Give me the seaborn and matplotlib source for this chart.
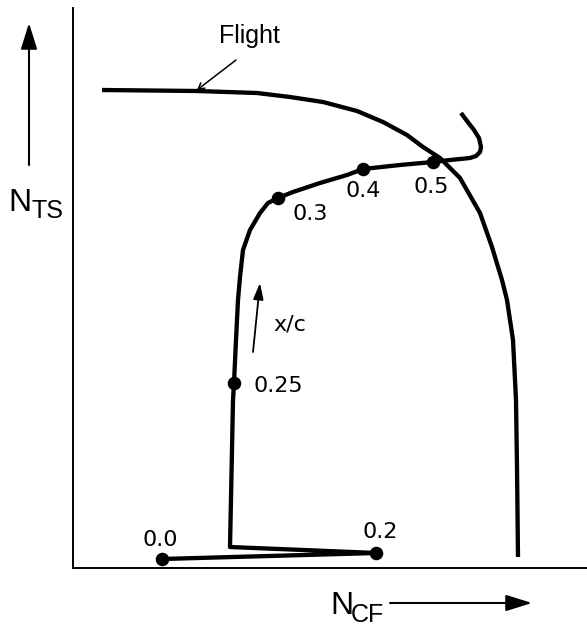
import matplotlib
matplotlib.use("Agg")
import matplotlib.pyplot as plt
import seaborn as sns
import pandas as pd

# ---- data (schematic units) ----
traj_ncf = [89, 303, 157, 159, 160, 161, 163, 165, 167, 170, 177, 187, 195, 205, 220,
            247, 274, 290, 327, 360, 377, 397, 403, 407, 408, 406, 401, 394, 388]
traj_nts = [9, 15, 21, 118, 168, 185, 228, 268, 291, 318, 338, 355, 365, 370, 376,
            385, 393, 399, 403, 406, 408, 410, 412, 416, 421, 430, 438, 447, 455]

flight_ncf = [29, 77, 124, 184, 217, 250, 284, 310, 334, 350, 367, 387, 407, 419,
              429, 434, 440, 443, 444, 445]
flight_nts = [478, 477.5, 477, 475, 471, 466, 457, 446, 433, 421, 410, 390, 355, 321,
              288, 268, 228, 168, 101, 11]

station_labels = ["0.0", "0.2", "0.25", "0.3", "0.4", "0.5"]
station_ncf = [89, 303, 161, 205, 290, 360]
station_nts = [9, 15, 185, 370, 399, 406]
label_ncf = [87, 307, 205, 237, 290, 358]
label_nts = [28, 36, 182, 354, 377, 381]

traj = pd.DataFrame({"NCF": traj_ncf, "NTS": traj_nts})
flight = pd.DataFrame({"NCF": flight_ncf, "NTS": flight_nts})
stations = pd.DataFrame({"NCF": station_ncf, "NTS": station_nts, "label": station_labels})

sns.set_style("white")
plt.rcParams["font.family"] = ["DejaVu Sans"]
plt.rcParams["text.color"] = "black"

W, H = 587, 635
fig = plt.figure(figsize=(W / 100, H / 100), dpi=100)
left, right, top, bottom = 73, 587, 8, 568
ax = fig.add_axes([left / W, (H - bottom) / H, (right - left) / W, (bottom - top) / H])
ax.set_xlim(0, right - left)
ax.set_ylim(0, bottom - top)

sns.lineplot(data=traj, x="NCF", y="NTS", sort=False, color="black", lw=3.1, ax=ax,
             estimator=None)
sns.lineplot(data=flight, x="NCF", y="NTS", sort=False, color="black", lw=3.1, ax=ax,
             estimator=None)
for ln in ax.lines:
    ln.set_solid_joinstyle("round")
    ln.set_solid_capstyle("butt")
sns.scatterplot(data=stations, x="NCF", y="NTS", color="black", s=95, ax=ax,
                edgecolor="black", linewidth=0, zorder=5)

for lab, x, y in zip(station_labels, label_ncf, label_nts):
    ax.text(x, y, lab, fontsize=16, ha="center", va="center", color="black")

# x/c direction arrow
ax.text(217, 243, "x/c", fontsize=16, ha="center", va="center", color="black")
ax.annotate("", xy=(187, 285), xytext=(180, 216),
            arrowprops=dict(arrowstyle="-|>,head_length=0.7,head_width=0.22",
                            mutation_scale=14, lw=1.3, color="black", shrinkA=0, shrinkB=0))

# Flight label with leader
ax.text(176, 532, "Flight", fontsize=18, ha="center", va="center", color="black",
        family=["Liberation Sans", "DejaVu Sans"])
ax.annotate("", xy=(124, 478), xytext=(163, 508),
            arrowprops=dict(arrowstyle="->,head_length=0.35,head_width=0.2",
                            mutation_scale=12, lw=1.1, color="black", shrinkA=0, shrinkB=0))

# axis labels with arrows
lab_font = ["Liberation Sans", "DejaVu Sans"]
ax.set_xlabel("")
ax.set_ylabel("")
ax.text(-53, 365, "N", fontsize=23, ha="center", va="center", family=lab_font,
        color="black", clip_on=False)
ax.text(-25, 357, "TS", fontsize=18, ha="center", va="center", family=lab_font,
        color="black", clip_on=False)
ax.annotate("", xy=(-44, 545), xytext=(-44, 403), annotation_clip=False,
            arrowprops=dict(arrowstyle="-|>,head_length=0.8,head_width=0.25",
                            mutation_scale=20, lw=1.5, color="black", shrinkA=0, shrinkB=0))
ax.text(269, -38, "N", fontsize=23, ha="center", va="center", family=lab_font,
        color="black", clip_on=False)
ax.text(294, -47, "CF", fontsize=18, ha="center", va="center", family=lab_font,
        color="black", clip_on=False)
ax.annotate("", xy=(459, -35), xytext=(317, -35), annotation_clip=False,
            arrowprops=dict(arrowstyle="-|>,head_length=0.8,head_width=0.25",
                            mutation_scale=20, lw=1.5, color="black", shrinkA=0, shrinkB=0))

ax.set_xticks([])
ax.set_yticks([])
sns.despine(ax=ax)
for s in ["left", "bottom"]:
    ax.spines[s].set_linewidth(1.4)
    ax.spines[s].set_color("black")

fig.savefig("out.png", dpi=100)
